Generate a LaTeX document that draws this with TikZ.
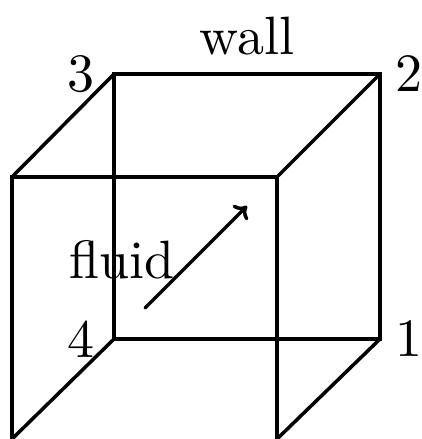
\documentclass[tikz,border=0pt]{standalone}
\usetikzlibrary{arrows.meta}
\font\tenrm="[lmroman10-regular]:mapping=tex-text;+liga" at 54pt
\tikzset{wire/.style={line width=3.5pt,line cap=round,line join=miter},lab/.style={inner sep=0pt,font=\tenrm}}
\begin{document}
\begin{tikzpicture}[x=1pt,y=-1pt]
\path[use as bounding box] (0,0) rectangle (422,439);
\coordinate (b3) at (114,74);
\coordinate (b2) at (380,74);
\coordinate (b1) at (380,339);
\coordinate (b4) at (114,339);
\coordinate (f3) at (12,177);
\coordinate (f2) at (277,177);
\coordinate (f4c) at (12,439);
\coordinate (f1c) at (277,439);
\coordinate (a) at (145,308);
\coordinate (c) at (247,206);
\begin{scope}
\clip (0,0) rectangle (422,439);
\draw[wire] (b4)--(b3)--(b2)--(b1)--cycle;
\draw[wire] (f4c)--(f3)--(f2)--(f1c);
\draw[wire] (b3)--(f3);
\draw[wire] (b2)--(f2);
\draw[wire] (b4)--(f4c);
\draw[wire] (b1)--(f1c);
\draw[wire,-{Computer Modern Rightarrow[length=11pt,width=21pt]}] (a)--(c);
\end{scope}
\node[lab] (wall) at (247,36) {wall};
\node[lab] (n3) at (81,74) {3};
\node[lab] (n2) at (408.5,74) {2};
\node[lab] (n1) at (408.5,339) {1};
\node[lab] (n4) at (81,339) {4};
\node[lab] (fl) at (122,260) {fluid};
\end{tikzpicture}
\end{document}
